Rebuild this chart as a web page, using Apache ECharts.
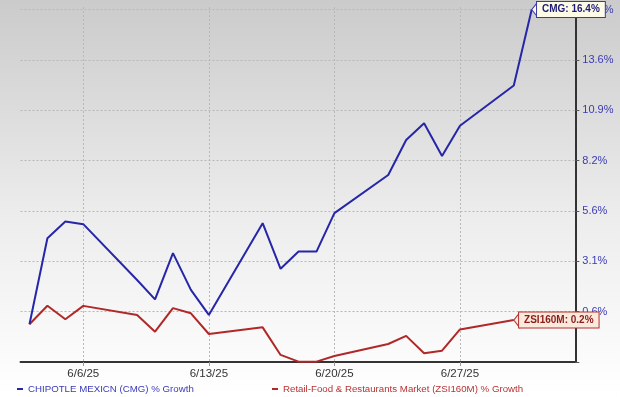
<!DOCTYPE html>
<html>
<head>
<meta charset="utf-8">
<script src="https://cdn.jsdelivr.net/npm/echarts@6/dist/echarts.min.js"></script>
<style>
  html, body { margin: 0; padding: 0; background: #fff; }
  #chart { width: 620px; height: 397px; }
</style>
</head>
<body>
<div id="chart"></div>
<script>
// trading days (month/day, 2025)
var dates = ['6/3', '6/4', '6/5', '6/6', '6/9', '6/10', '6/11', '6/12', '6/13', '6/16', '6/17',
             '6/18', '6/19', '6/20', '6/23', '6/24', '6/25', '6/26', '6/27', '6/30', '7/1']
// % growth since 6/3
var cmgGrowth = [0, 4.24, 5.08, 4.95, 2.16, 1.21, 3.49, 1.67, 0.45, 5.00, 2.71,
                 3.57, 3.57, 5.51, 7.47, 9.30, 10.19, 8.46, 10.05, 12.21, 16.4]
var zsiGrowth = [0, 0.90, 0.24, 0.89, 0.45, -0.36, 0.78, 0.53, -0.47, -0.15, -1.47,
                 -1.79, -1.79, -1.52, -0.95, -0.56, -1.39, -1.27, -0.25, 0.2, null]
var xTickDates = ['6/6', '6/13', '6/20', '6/27']
var yTickLabels = ['0.6%', '3.1%', '5.6%', '8.2%', '10.9%', '13.6%', '16.4%']
var cmgName = 'CHIPOTLE MEXICN (CMG) % Growth'
var zsiName = 'Retail-Food & Restaurants Market (ZSI160M) % Growth'

// the y scale is logarithmic on (1 + growth): one tick step = x1.0246, first tick = 0.6%
var LOG_BASE = 1.0061, LOG_STEP = 1.0246
function toAxis(g) {
  if (g == null) return null
  return Math.log((1 + g / 100) / LOG_BASE) / Math.log(LOG_STEP)
}
function dayNum(d) {
  var p = d.split('/')
  return (p[0] == '7' ? 30 : 0) + parseInt(p[1])
}
function dayLabel(v) {
  var m = v > 30 ? 7 : 6
  var d = m == 7 ? v - 30 : v
  return m + '/' + Math.round(d) + '/25'
}

function buildSeries(values) {
  var out = []
  for (var i = 0; i < dates.length; i++) {
    if (values[i] == null) continue
    out.push([dayNum(dates[i]), toAxis(values[i])])
  }
  return out
}
var cmgData = buildSeries(cmgGrowth)
var zsiData = buildSeries(zsiGrowth)
var cmgLast = cmgData[cmgData.length - 1]
var zsiLast = zsiData[zsiData.length - 1]

// little arrow on the left of the end tags
var arrowPath = 'path://M0,8 L8,0 L8,16 Z'
var fontFam = '"Liberation Sans", Arial, sans-serif'

function endTag(text, fill, border, textColor, h) {
  return {
    symbol: arrowPath,
    symbolSize: [6, h],
    symbolOffset: ['50%', 0],
    itemStyle: {color: fill, borderColor: border, borderWidth: 1},
    label: {
      show: true, position: 'right', distance: -1,
      formatter: text,
      color: textColor, fontFamily: fontFam, fontSize: 10, fontWeight: 'bold',
      backgroundColor: fill, borderColor: border, borderWidth: 1,
      padding: [2, 5, 1, 5], height: h - 3, lineHeight: h - 3
    },
    emphasis: {disabled: true}
  }
}

var myChart = echarts.init(document.getElementById('chart'))
myChart.setOption({
  animation: false,
  backgroundColor: {
    type: 'linear', x: 0, y: 0, x2: 0, y2: 1,
    colorStops: [
      {offset: 0, color: '#cbcbcb'},
      {offset: 0.55, color: '#ededed'},
      {offset: 1, color: '#ffffff'}
    ]
  },
  grid: {left: 20.5, right: 44.7, top: 7, bottom: 35},
  legend: [
    {
      left: 17, top: 384, padding: 0, itemWidth: 6, itemHeight: 2, icon: 'rect',
      data: [{name: cmgName, textStyle: {color: '#3a3ab8'}}],
      textStyle: {fontFamily: fontFam, fontSize: 9.7}
    },
    {
      left: 272, top: 384, padding: 0, itemWidth: 6, itemHeight: 2, icon: 'rect',
      data: [{name: zsiName, textStyle: {color: '#b83232'}}],
      textStyle: {fontFamily: fontFam, fontSize: 9.7}
    }
  ],
  xAxis: {
    type: 'value',
    min: 2.5,
    max: 33.43,
    axisLine: {onZero: false, lineStyle: {color: '#333', width: 2}},
    axisTick: {show: true, length: 4, lineStyle: {color: '#999'}, customValues: xTickDates.map(dayNum)},
    axisLabel: {
      customValues: xTickDates.map(dayNum),
      formatter: dayLabel,
      color: '#333', fontFamily: fontFam, fontSize: 11.5, margin: 6
    },
    splitLine: {show: true, lineStyle: {color: '#b8b8b8', type: [2, 2], width: 1}}
  },
  yAxis: {
    type: 'value',
    position: 'right',
    min: -1,
    max: 6.05,
    interval: 1,
    axisLine: {show: true, onZero: false, lineStyle: {color: '#333', width: 2}},
    axisTick: {show: true, length: 4, lineStyle: {color: '#555'}},
    axisLabel: {
      formatter: function (v) {
        var i = Math.round(v)
        if (Math.abs(v - i) > 1e-6 || i < 0 || i >= yTickLabels.length) return ''
        return yTickLabels[i]
      },
      color: '#3b3bb5', fontFamily: fontFam, fontSize: 11, margin: 7
    },
    splitLine: {show: true, showMaxLine: false, showMinLine: false,
      lineStyle: {color: '#b8b8b8', type: [2, 2], width: 1}}
  },
  series: [
    {
      name: zsiName,
      type: 'line',
      data: zsiData,
      symbol: 'none',
      color: '#b02828',
      lineStyle: {width: 2, color: '#b02828'},
      z: 3,
      markPoint: Object.assign(endTag('ZSI160M: 0.2%', '#fbe9dc', '#b03030', '#8a1c1c', 15),
        {data: [{coord: zsiLast}]})
    },
    {
      name: cmgName,
      type: 'line',
      data: cmgData,
      symbol: 'none',
      color: '#2626a8',
      lineStyle: {width: 2, color: '#2626a8'},
      z: 4,
      markPoint: Object.assign(endTag('CMG: 16.4%', '#fdfbe6', '#3a3aa8', '#1c1c78', 15),
        {data: [{coord: cmgLast}]})
    }
  ]
})
</script>
</body>
</html>
